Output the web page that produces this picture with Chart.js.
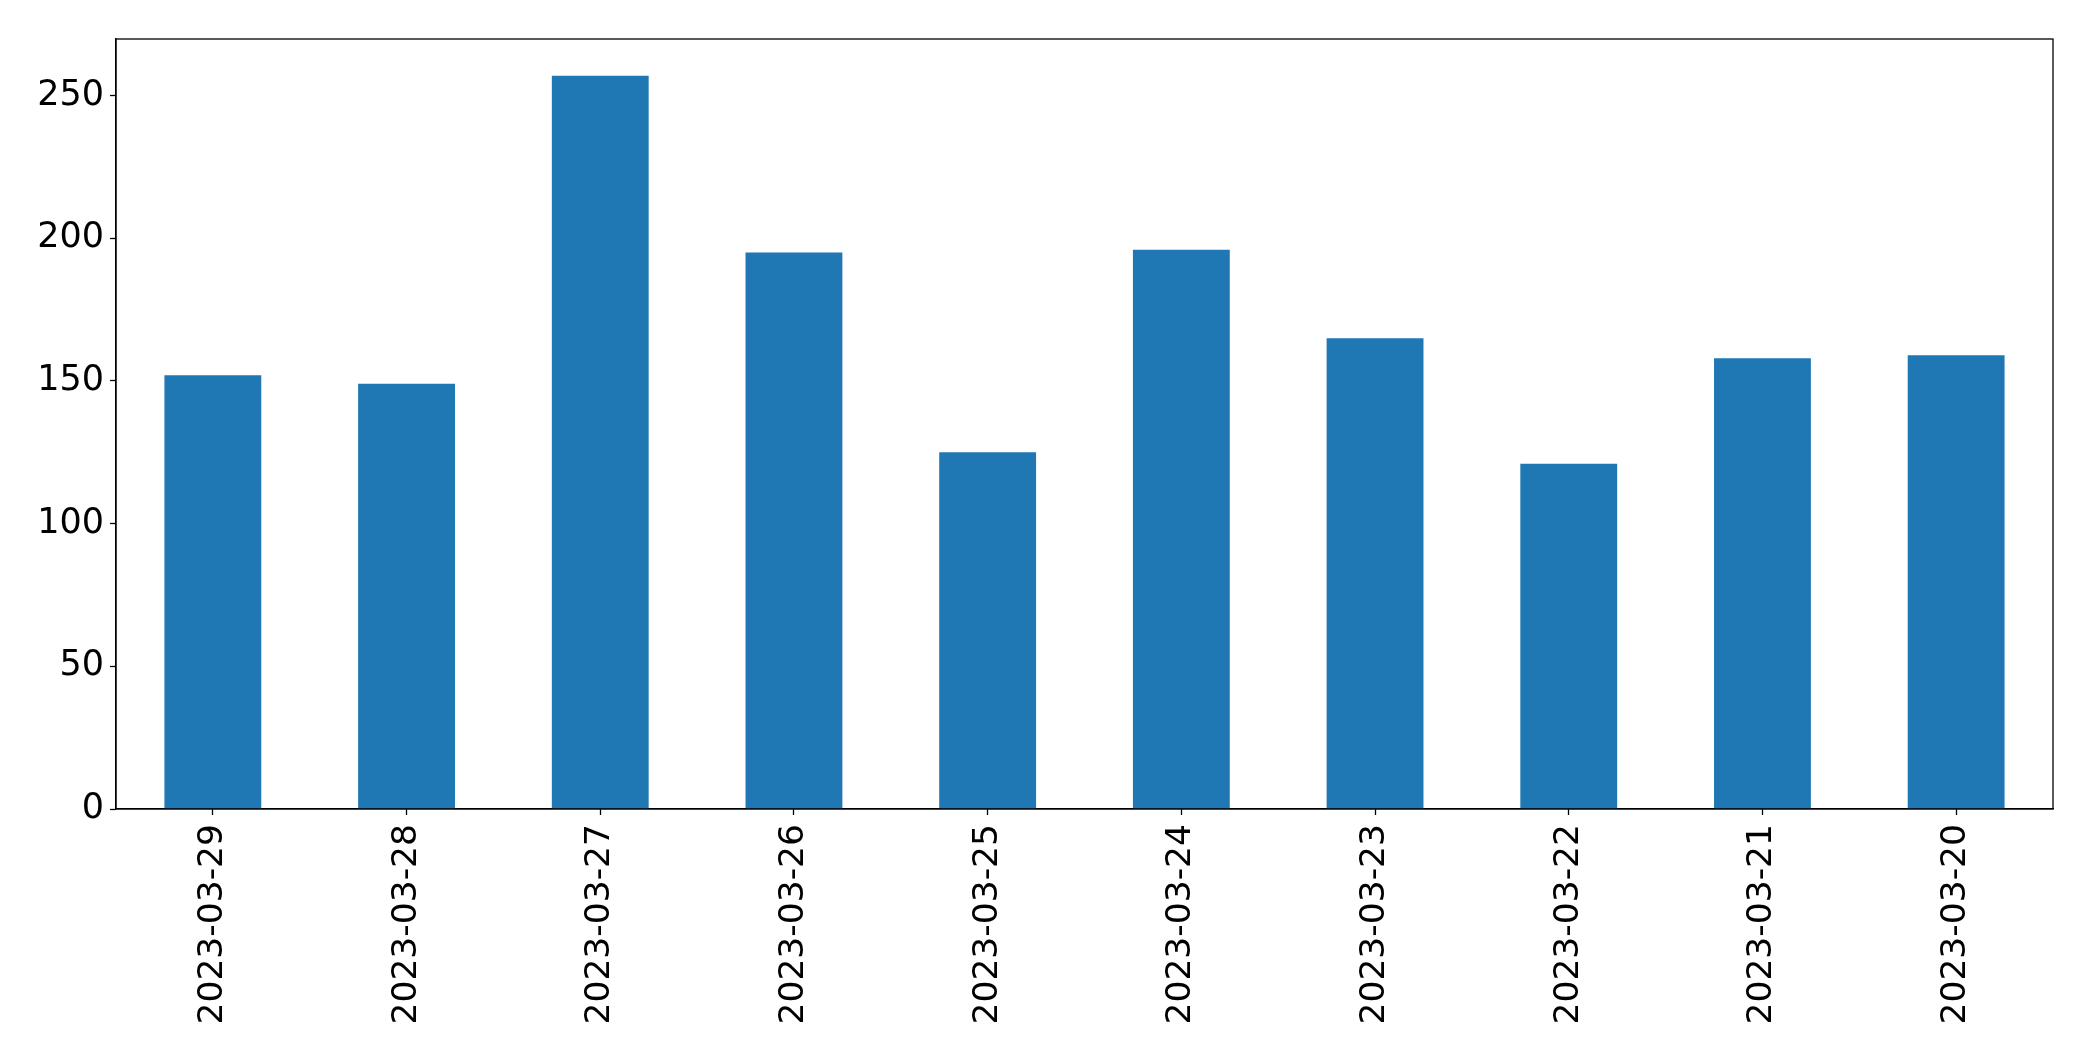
<!DOCTYPE html>
<html>
<head>
<meta charset="utf-8">
<script src="https://cdn.jsdelivr.net/npm/chart.js@4/dist/chart.umd.min.js"></script>
<style>
  html, body { margin: 0; padding: 0; background: #fff; }
  #wrap { width: 2093px; height: 1061px; }
</style>
</head>
<body>
<div id="wrap"><canvas id="grafico"></canvas></div>
<script>
const categorias = ["2023-03-29", "2023-03-28", "2023-03-27", "2023-03-26", "2023-03-25",
  "2023-03-24", "2023-03-23", "2023-03-22", "2023-03-21", "2023-03-20"];
const valores = [152, 149, 257, 195, 125, 196, 165, 121, 158, 159];
const ticksY = [0, 50, 100, 150, 200, 250];
const maxY = 269.85;

// moldura preta em volta da area do grafico
const moldura = {
  id: "moldura",
  afterDraw(chart) {
    const { ctx, chartArea: a } = chart;
    ctx.save();
    ctx.strokeStyle = "#000";
    ctx.lineWidth = 1.3;
    ctx.strokeRect(a.left, a.top, a.right - a.left, a.bottom - a.top);
    ctx.restore();
  },
};

Chart.defaults.font.family = "'DejaVu Sans', sans-serif";
Chart.defaults.color = "#000";

new Chart(document.getElementById("grafico"), {
  type: "bar",
  data: {
    labels: categorias,
    datasets: [
      {
        data: valores,
        backgroundColor: "#1f77b4",
        borderWidth: 0,
        categoryPercentage: 1.0,
        barPercentage: 0.5,
      },
    ],
  },
  options: {
    responsive: true,
    maintainAspectRatio: false,
    animation: false,
    layout: { padding: { top: 39, right: 40, left: 0, bottom: 0 } },
    plugins: { legend: { display: false }, tooltip: { enabled: false } },
    scales: {
      x: {
        grid: { display: true, offset: false, drawOnChartArea: false, tickLength: 6, tickColor: "#000", tickWidth: 1.3 },
        border: { display: true, color: "#000", width: 1.3 },
        ticks: { font: { size: 34.5 }, minRotation: 90, maxRotation: 90, padding: 9, autoSkip: false },
        afterFit(scale) { scale.height = 252; },
      },
      y: {
        min: 0,
        max: maxY,
        grid: { display: true, drawOnChartArea: false, tickLength: 6, tickColor: "#000", tickWidth: 1.3 },
        border: { display: true, color: "#000", width: 1.3 },
        ticks: { font: { size: 35 }, stepSize: 50, includeBounds: false, padding: 6 },
        afterBuildTicks(scale) { scale.ticks = ticksY.map((v) => ({ value: v })); },
        afterFit(scale) { scale.width = 116; },
      },
    },
  },
  plugins: [moldura],
});
</script>
</body>
</html>
